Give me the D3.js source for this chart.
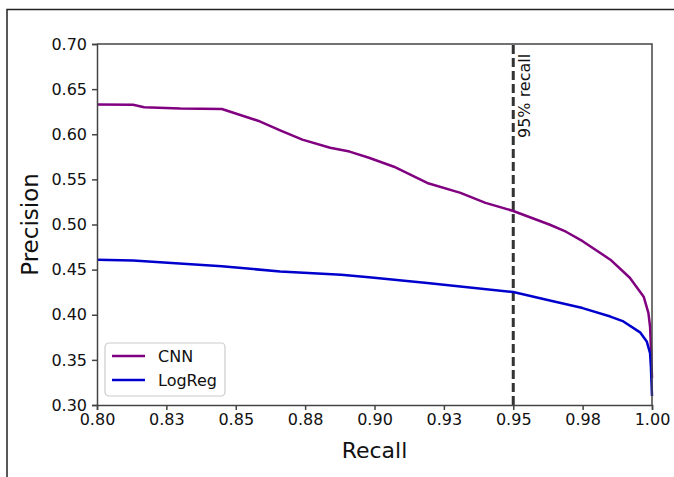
<html>
<head>
<meta charset="utf-8">
<script src="https://cdn.jsdelivr.net/npm/d3@7"></script>
<style>
    body { margin: 0; background: #fff; }
    text { font-family: "DejaVu Sans", sans-serif; fill: #111; }
    .axis path, .axis line { stroke: #444; stroke-width: 1.5px; }
    .axis text { font-size: 16px; fill: #111; }
</style>
</head>
<body>
<script>

    // curve points
    var cnnRecall = [0.800, 0.813, 0.817, 0.830, 0.845, 0.858, 0.866, 0.874, 0.884, 0.891, 0.898,
        0.907, 0.919, 0.931, 0.940, 0.950, 0.963, 0.969, 0.975, 0.985, 0.992, 0.997, 0.9987, 0.9993, 0.9996, 1.0];
    var cnnPrecision = [0.633, 0.6326, 0.630, 0.6285, 0.628, 0.615, 0.6044, 0.594, 0.585, 0.5808, 0.574,
        0.564, 0.546, 0.535, 0.524, 0.515, 0.500, 0.492, 0.4815, 0.461, 0.441, 0.420, 0.402, 0.387, 0.365, 0.33];

    var logRecall = [0.800, 0.813, 0.845, 0.866, 0.888, 0.898, 0.919, 0.950, 0.962, 0.975, 0.985,
        0.9897, 0.9957, 0.9981, 0.9993, 0.9996, 1.0];
    var logPrecision = [0.461, 0.460, 0.4537, 0.448, 0.4444, 0.4415, 0.4352, 0.4252, 0.4167, 0.4074, 0.398,
        0.3926, 0.3805, 0.3704, 0.3574, 0.3426, 0.31];

    var xTicks = [0.800, 0.825, 0.850, 0.875, 0.900, 0.925, 0.950, 0.975, 1.000];
    var xTickLabels = ["0.80", "0.83", "0.85", "0.88", "0.90", "0.93", "0.95", "0.98", "1.00"];
    var yTicks = [0.30, 0.35, 0.40, 0.45, 0.50, 0.55, 0.60, 0.65, 0.70];
    var cutoff = 0.95;

    var series = [
        {name: "CNN", color: "#800080", recall: cnnRecall, precision: cnnPrecision},
        {name: "LogReg", color: "#0000cd", recall: logRecall, precision: logPrecision}
    ];

    var width = 674,
        height = 477;
    var margin = {top: 44, right: 22, bottom: 72, left: 97};

    var svg = d3.select("body").append("svg")
        .attr("width", width)
        .attr("height", height);

    // outer frame (only top and left edge are in the picture)
    svg.append("path")
        .attr("d", "M7,477V9.5H674")
        .attr("fill", "none")
        .attr("stroke", "#222")
        .attr("stroke-width", 1.5);

    var x = d3.scaleLinear().domain([0.8, 1.0]).range([margin.left, width - margin.right]);
    var y = d3.scaleLinear().domain([0.30, 0.70]).range([height - margin.bottom, margin.top]);

    var g = svg.append("g");

    var line = d3.line()
        .x(function (d) { return x(d[0]); })
        .y(function (d) { return y(d[1]); });

    // cutoff line
    g.append("line")
        .attr("x1", x(cutoff)).attr("x2", x(cutoff))
        .attr("y1", y(0.30)).attr("y2", y(0.70))
        .attr("stroke", "#333")
        .attr("stroke-width", 3)
        .attr("stroke-dasharray", "9,4");

    g.append("text")
        .attr("transform", "translate(" + (x(cutoff) + 17) + "," + 138 + ") rotate(-90)")
        .style("font-size", "16px")
        .text("95% recall");

    series.forEach(function (s) {
        var pts = s.recall.map(function (r, i) { return [r, s.precision[i]]; });
        g.append("path")
            .datum(pts)
            .attr("d", line)
            .attr("fill", "none")
            .attr("stroke", s.color)
            .attr("stroke-width", 2.5)
            .attr("stroke-linejoin", "round");
    });

    // axes
    svg.append("g")
        .attr("class", "axis")
        .attr("transform", "translate(0," + (height - margin.bottom) + ")")
        .call(d3.axisBottom(x).tickValues(xTicks)
            .tickFormat(function (d, i) { return xTickLabels[i]; })
            .tickSize(5).tickPadding(4));

    svg.append("g")
        .attr("class", "axis")
        .attr("transform", "translate(" + margin.left + ",0)")
        .call(d3.axisLeft(y).tickValues(yTicks).tickFormat(d3.format(".2f"))
            .tickSize(5).tickPadding(5));

    // top and right spines
    svg.append("path")
        .attr("d", "M" + margin.left + "," + margin.top + "H" + (width - margin.right) + "V" + (height - margin.bottom))
        .attr("fill", "none")
        .attr("stroke", "#444")
        .attr("stroke-width", 1.5);

    svg.append("text")
        .attr("x", (margin.left + width - margin.right) / 2)
        .attr("y", 458)
        .attr("text-anchor", "middle")
        .style("font-size", "22px")
        .text("Recall");

    svg.append("text")
        .attr("transform", "translate(38," + ((margin.top + height - margin.bottom) / 2) + ") rotate(-90)")
        .attr("text-anchor", "middle")
        .style("font-size", "23px")
        .text("Precision");

    // legend
    var legend = svg.append("g").attr("transform", "translate(105,343)");
    legend.append("rect")
        .attr("width", 120).attr("height", 53)
        .attr("rx", 4)
        .attr("fill", "#fff")
        .attr("stroke", "#ccc")
        .attr("stroke-width", 1.2);

    series.forEach(function (s, i) {
        var row = legend.append("g").attr("transform", "translate(0," + (13 + i * 24) + ")");
        row.append("line")
            .attr("x1", 7).attr("x2", 40)
            .attr("stroke", s.color)
            .attr("stroke-width", 2.5);
        row.append("text")
            .attr("x", 53).attr("y", 6)
            .style("font-size", "16px")
            .text(s.name);
    });

</script>
</body>
</html>
